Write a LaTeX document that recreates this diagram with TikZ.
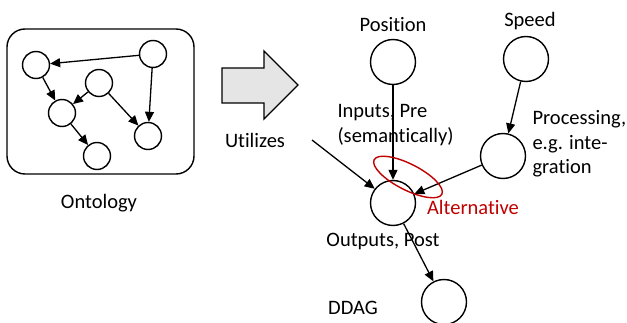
\documentclass[tikz,border=0pt]{standalone}
\usepackage{fontspec}
\setmainfont{Carlito}[Ligatures=NoCommon]
\usetikzlibrary{arrows.meta}
\definecolor{altred}{RGB}{192,0,0}

\begin{document}
\begin{tikzpicture}[x=1pt, y=-1pt, every node/.style={font=\fontsize{20.5}{24.5}\selectfont},
  >={Triangle[length=10pt,width=9pt]},
  sv/.style={draw,circle,line width=1.4pt,minimum size=27pt,inner sep=0pt},
  bv/.style={draw,circle,line width=1.4pt,minimum size=45pt,inner sep=0pt},
  edge/.style={->,line width=1.3pt}]
\useasboundingbox (0,0) rectangle (627,323);
% ontology
\node[draw,line width=1.4pt,rounded corners=18pt,minimum width=187pt,minimum height=145pt] (onto) at (100.5,101.5) {};
\node (ontolabel) at (99,203) {Ontology};
\node[sv] (oa) at (36,65) {};
\node[sv] (ob) at (153,54) {};
\node[sv] (oc) at (99,83) {};
\node[sv] (od) at (62,113) {};
\node[sv] (oe) at (148,136) {};
\node[sv] (of) at (97,156) {};
\foreach \s/\t in {ob/oa,ob/oe,oa/od,oc/od,oc/oe,od/of} {\draw[edge] (\s) -- (\t);}
% big arrow
\draw[line width=1.3pt,fill=gray!20] (222,68) -- (264,68) -- (264,51) -- (298,85) -- (264,119) -- (264,103) -- (222,103) -- cycle;
\node (utilizes) at (255,140) {Utilizes};
% DDAG
\node[bv] (pos) at (393,62) {};
\node (poslabel) at (393,25) {Position};
\node[bv] (speed) at (526,59) {};
\node (speedlabel) at (530,21) {Speed};
\node[bv] (proc) at (503,156) {};
\node[align=left,anchor=west] (proclabel) at (529,144) {Processing,\\e.g. inte-\\gration};
\node[bv] (main) at (393,203) {};
\node[align=left,anchor=west] (inlabel) at (334,125) {Inputs, Pre\\(semantically)};
\node (outlabel) at (383,242) {Outputs, Post};
\node[bv] (ddag) at (444,302) {};
\node (ddaglabel) at (353,308) {DDAG};
\coordinate (ustart) at (312,140);
\draw[edge] (pos) -- (main);
\draw[edge] (speed) -- (proc);
\draw[edge] (proc) -- (main);
\draw[edge] (ustart) -- (main);
\draw[edge] (main) -- (ddag);
% alternative
\draw[altred,line width=1.4pt,rotate around={-27:(408,177)}] (408,177) ellipse (38 and 13);
\node[text=altred] (altlabel) at (473,207) {Alternative};
\end{tikzpicture}
\end{document}
